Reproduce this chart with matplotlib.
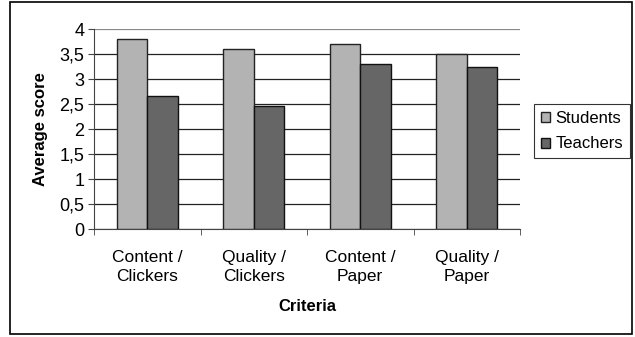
import numpy as np
import matplotlib.pyplot as plt
from matplotlib.patches import Rectangle

categories = ["Content /\nClickers", "Quality /\nClickers", "Content /\nPaper", "Quality /\nPaper"]
students = [3.8, 3.6, 3.7, 3.51]
teachers = [2.67, 2.47, 3.31, 3.25]
y_ticks = [0, 0.5, 1, 1.5, 2, 2.5, 3, 3.5, 4]
y_labels = ["0", "0,5", "1", "1,5", "2", "2,5", "3", "3,5", "4"]

plt.rcParams['font.family'] = ['Liberation Sans', 'DejaVu Sans']

fig = plt.figure(figsize=(6.35, 3.37), dpi=100, facecolor='w')
ax = fig.add_axes([94 / 635, 1 - 229 / 337, (520 - 94) / 635, 200 / 337])

x = np.arange(len(categories))
w = 0.285
ax.bar(x - w / 2, students, w, color="#b3b3b3", edgecolor="#222222", linewidth=1, label="Students", zorder=3)
ax.bar(x + w / 2, teachers, w, color="#666666", edgecolor="#111111", linewidth=1, label="Teachers", zorder=3)

ax.set_xlim(-0.5, len(categories) - 0.5)
ax.set_ylim(0, 4)
ax.set_yticks(y_ticks)
ax.set_yticklabels(y_labels, fontsize=13)
ax.yaxis.grid(True, color="#222222", linewidth=0.9, zorder=0)
ax.set_axisbelow(True)
ax.get_ygridlines()[-1].set_color("#888888")

ax.set_xticks(x)
ax.set_xticklabels(categories, fontsize=12.5, linespacing=1.35)
ax.set_xticks(np.arange(len(categories) + 1) - 0.5, minor=True)
ax.tick_params(axis='x', which='major', length=0, pad=15)
ax.tick_params(axis='x', which='minor', length=4, color="#444444")
ax.tick_params(axis='y', length=4, color="#444444", pad=3)

for s in ["top", "right"]:
    ax.spines[s].set_visible(False)
ax.spines["left"].set_color("#444444")
ax.spines["bottom"].set_color("#444444")

ax.set_ylabel("Average score", fontsize=12, fontweight="bold", labelpad=8)
ax.set_xlabel("Criteria", fontsize=12, fontweight="bold", labelpad=11)

leg = ax.legend(loc="center left", bbox_to_anchor=(1.033, 0.49), frameon=True, fancybox=False,
                edgecolor="black", fontsize=12, handlelength=0.55, handleheight=0.55,
                handletextpad=0.35, borderpad=0.4, labelspacing=0.65, borderaxespad=0)
leg.get_frame().set_linewidth(0.8)

fig.patches.append(Rectangle((10 / 635, 3 / 337), 622 / 635, 332 / 337, transform=fig.transFigure,
                             fill=False, edgecolor="black", linewidth=1.2))

fig.savefig("out.png", dpi=100)
